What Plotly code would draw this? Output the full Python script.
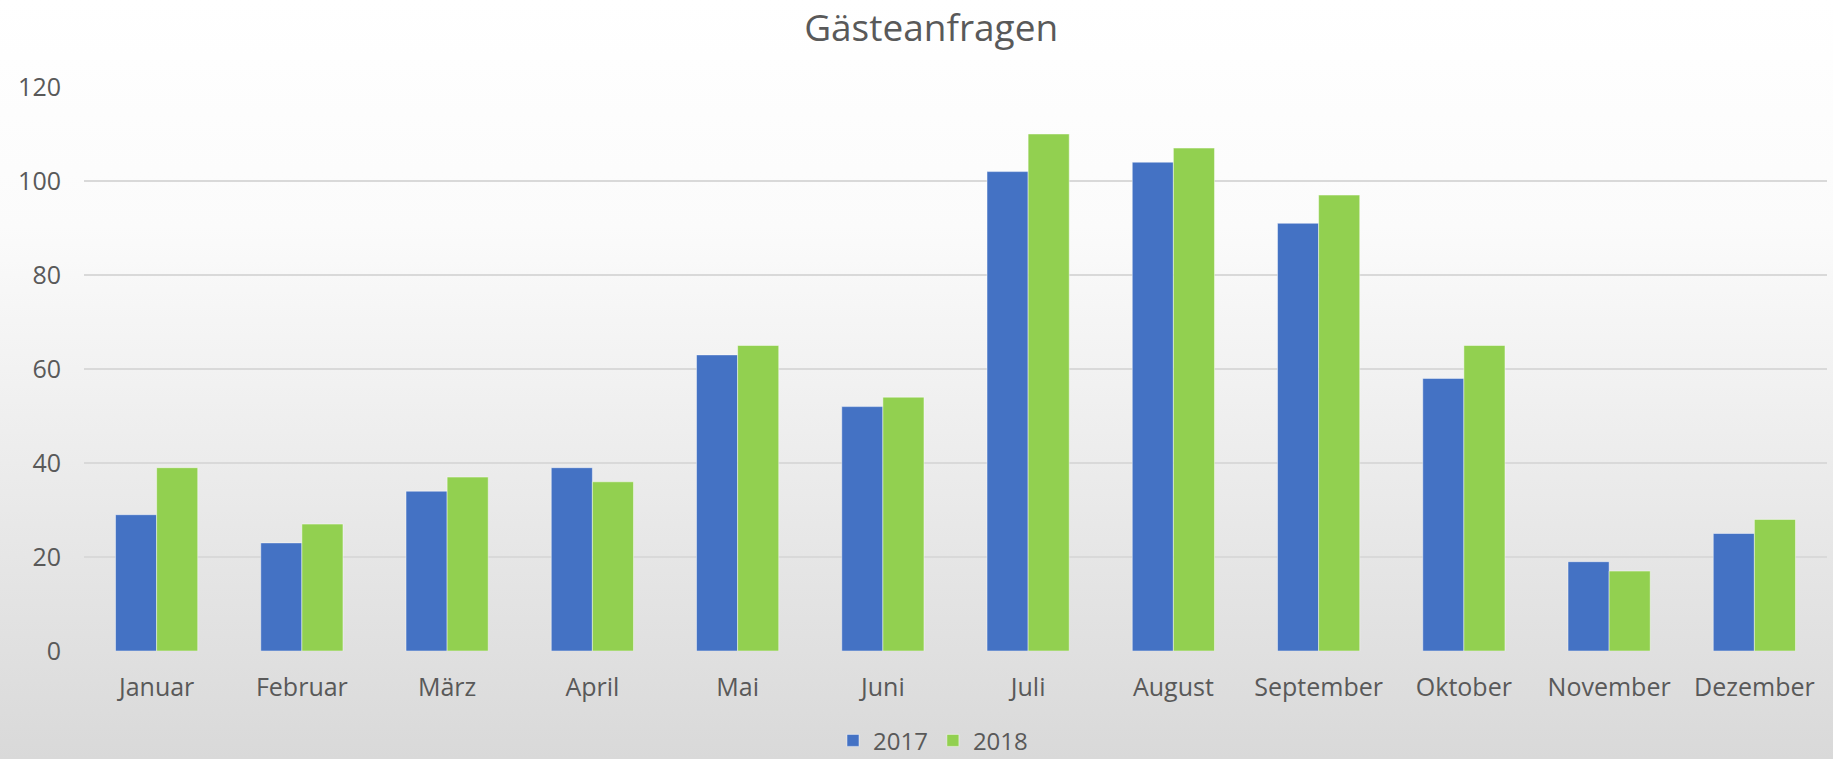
import base64
import plotly.graph_objects as go

months = ["Januar", "Februar", "März", "April", "Mai", "Juni", "Juli",
          "August", "September", "Oktober", "November", "Dezember"]
values_2017 = [29, 23, 34, 39, 63, 52, 102, 104, 91, 58, 19, 25]
values_2018 = [39, 27, 37, 36, 65, 54, 110, 107, 97, 65, 17, 28]
y_ticks = [0, 20, 40, 60, 80, 100, 120]

FONT = "Open Sans, Noto Sans, DejaVu Sans, sans-serif"
TXT = "#595959"

svg = ('<svg xmlns="http://www.w3.org/2000/svg" width="100" height="100" preserveAspectRatio="none">'
       '<defs><linearGradient id="g" x1="0" y1="0" x2="0" y2="1">'
       '<stop offset="0" stop-color="#ffffff"/>'
       '<stop offset="0.3" stop-color="#fbfbfb"/>'
       '<stop offset="1" stop-color="#d9d9d9"/>'
       '</linearGradient></defs>'
       '<rect width="100" height="100" fill="url(#g)"/></svg>')
uri = "data:image/svg+xml;base64," + base64.b64encode(svg.encode()).decode()

fig = go.Figure()
fig.add_trace(go.Bar(name="2017", x=months, y=values_2017,
                     marker=dict(color="#4472C4", line=dict(color="rgba(255,255,255,0.45)", width=1))))
fig.add_trace(go.Bar(name="2018", x=months, y=values_2018,
                     marker=dict(color="#92D050", line=dict(color="rgba(255,255,255,0.45)", width=1))))

fig.update_layout(
    width=1833, height=759,
    margin=dict(l=84, r=6, t=87, b=108, autoexpand=False),
    paper_bgcolor="rgba(0,0,0,0)",
    plot_bgcolor="rgba(0,0,0,0)",
    barmode="group", bargap=0.434, bargroupgap=0,
    font=dict(family=FONT, color=TXT, size=25),
    title=dict(text="Gästeanfragen", x=0.508, xref="container", xanchor="center",
               y=0.963, yref="container", yanchor="middle",
               font=dict(size=37, color=TXT, family=FONT)),
    legend=dict(orientation="h", x=0.509, xanchor="center", xref="container",
                y=0.024, yanchor="middle", yref="container",
                font=dict(size=24, color=TXT), bgcolor="rgba(0,0,0,0)",
                itemwidth=30, traceorder="normal"),
    images=[dict(source=uri, xref="paper", yref="paper", x=-84/1743, y=1+87/564,
                 sizex=1833/1743, sizey=759/564, sizing="stretch",
                 xanchor="left", yanchor="top", layer="below")],
    hovermode=False,
)
fig.update_xaxes(showgrid=False, showline=False, ticks="", zeroline=False, automargin=False,
                 tickfont=dict(size=25, color=TXT), ticklabelstandoff=19)
fig.update_yaxes(range=[0, 120], tickvals=y_ticks, showgrid=True, gridcolor="#d9d9d9",
                 gridwidth=1.5, zeroline=False, showline=False, ticks="", automargin=False,
                 tickfont=dict(size=25, color=TXT), ticklabelstandoff=22)

fig.write_html("out.html", config={"displayModeBar": False},
               post_script="document.body.style.margin='0';document.body.style.overflow='hidden';")
